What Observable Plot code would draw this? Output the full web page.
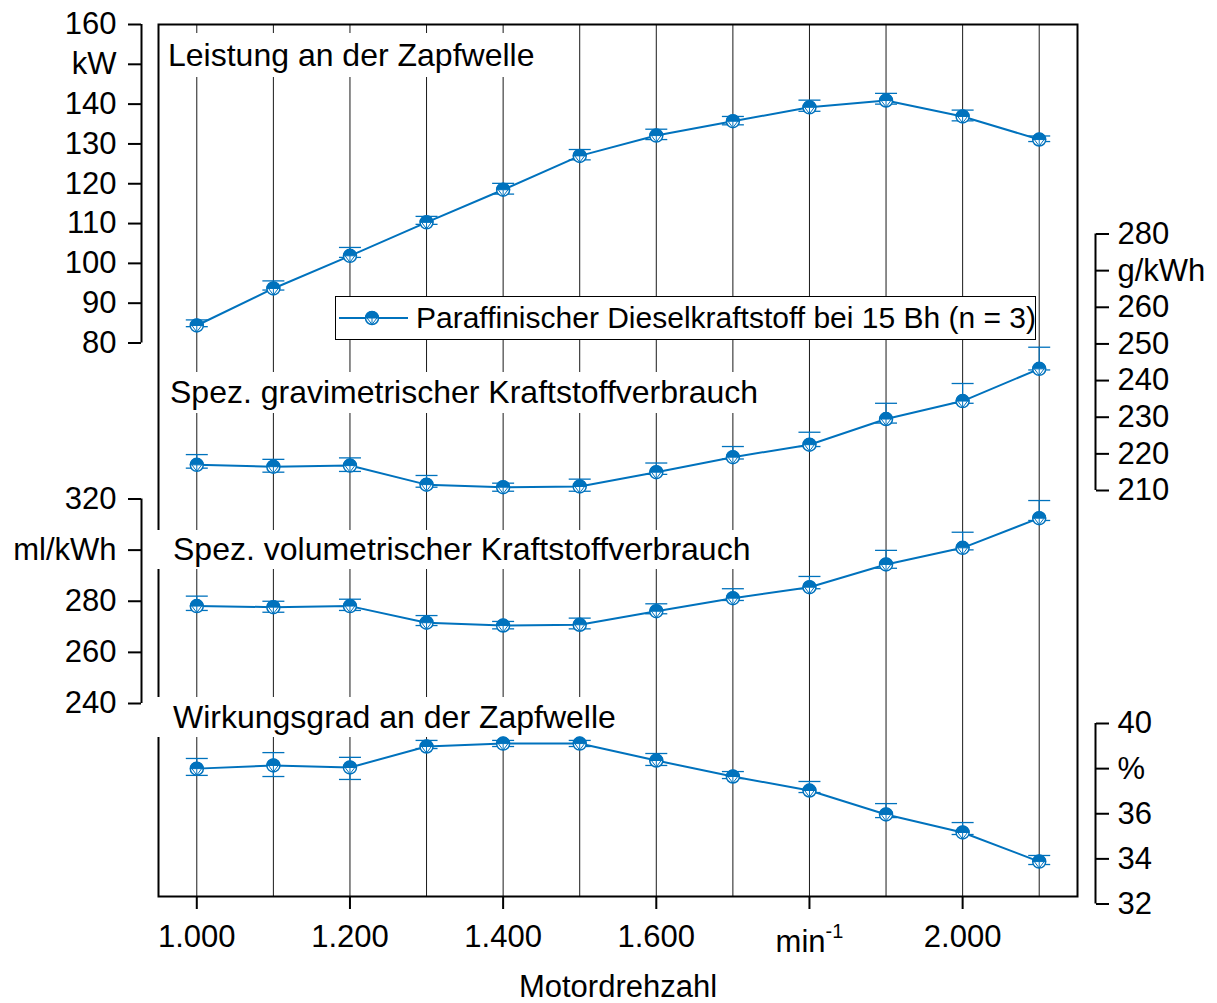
<!DOCTYPE html>
<html><head><meta charset="utf-8">
<script src="https://cdn.jsdelivr.net/npm/d3@7"></script>
<script src="https://cdn.jsdelivr.net/npm/@observablehq/plot@0.6"></script>
<style>
body{margin:0;background:#fff;}
#wrap{position:relative;width:1217px;height:1003px;overflow:hidden;font-family:"Liberation Sans",Arial,sans-serif;color:#000;}
#wrap svg{position:absolute;left:0;top:0;}
.lbl{position:absolute;background:#fff;font-size:32px;white-space:nowrap;color:#000;box-sizing:border-box;}
#legend{position:absolute;left:335px;top:296px;width:701px;height:44px;box-sizing:border-box;border:1px solid #000;background:#fff;font-size:30px;line-height:42px;white-space:nowrap;}
#legend svg{position:absolute;left:0;top:0;}
#legend span{position:absolute;left:80px;top:0;}
</style></head>
<body><div id="wrap"></div>
<script>
// ---------- data ----------
const rpm = [1000, 1100, 1200, 1300, 1400, 1500, 1600, 1700, 1800, 1900, 2000, 2100];

const power   = [84.4, 93.7, 101.9, 110.3, 118.5, 127.0, 132.1, 135.7, 139.2, 140.9, 136.9, 131.1];
const powerLo = [84.1, 93.3, 101.5, 109.8, 117.4, 126.0, 131.1, 134.8, 138.2, 140.0, 135.8, 130.6];
const powerHi = [85.8, 95.6, 104.0, 111.8, 120.1, 128.6, 133.7, 136.9, 141.0, 142.7, 138.5, 132.0];

const grav   = [217.0, 216.5, 216.8, 211.6, 210.9, 211.1, 215.0, 219.1, 222.5, 229.5, 234.4, 243.2];
const gravLo = [216.1, 215.0, 215.2, 210.9, 209.8, 209.8, 214.4, 218.6, 222.0, 228.4, 233.8, 242.9];
const gravHi = [219.8, 218.5, 218.9, 214.1, 212.0, 213.1, 217.5, 222.0, 225.9, 233.8, 239.2, 249.1];

const vol   = [278.1, 277.7, 278.1, 271.6, 270.5, 270.8, 276.1, 281.2, 285.5, 294.4, 300.9, 312.5];
const volLo = [276.4, 275.7, 276.4, 270.5, 269.2, 269.2, 275.1, 280.3, 284.9, 292.9, 300.1, 311.6];
const volHi = [282.0, 280.0, 280.8, 274.4, 272.1, 273.4, 279.0, 284.9, 289.7, 299.9, 307.0, 319.4];

const eff   = [38.00, 38.14, 38.05, 38.98, 39.11, 39.11, 38.36, 37.65, 37.03, 35.97, 35.17, 33.88];
const effLo = [37.70, 37.65, 37.52, 38.89, 38.98, 38.98, 38.14, 37.56, 36.94, 35.83, 35.08, 33.75];
const effHi = [38.45, 38.71, 38.50, 39.25, 39.25, 39.25, 38.67, 37.87, 37.43, 36.45, 35.61, 34.15];

const xTicks = [1000, 1200, 1400, 1600, 1800, 2000];
const xTickLabels = ["1.000", "1.200", "1.400", "1.600", "min-1", "2.000"];
const xLabel = "Motordrehzahl";

const powerTicks = [160, 150, 140, 130, 120, 110, 100, 90, 80];
const gravTicks = [280, 270, 260, 250, 240, 230, 220, 210];
const volTicks = [320, 300, 280, 260, 240];
const effTicks = [40, 38, 36, 34, 32];

const titles = [
  "Leistung an der Zapfwelle",
  "Spez. gravimetrischer Kraftstoffverbrauch",
  "Spez. volumetrischer Kraftstoffverbrauch",
  "Wirkungsgrad an der Zapfwelle"
];
const legendText = "Paraffinischer Dieselkraftstoff bei 15 Bh (n = 3)";

// ---------- drawing ----------
const W = 1217, H = 1003;
const blue = "#0072BD";
const font = "'Liberation Sans', Arial, sans-serif";
const wrap = document.getElementById("wrap");

const common = {
  width: W, height: H, marginLeft: 158, marginRight: 140,
  style: {fontFamily: font, fontSize: "31px", color: "#000", background: "transparent", overflow: "visible"}
};

const xLab = new Map(xTicks.map((t, i) => [t, xTickLabels[i]]));

const base = Plot.plot({
  ...common, marginTop: 24, marginBottom: H - 896,
  x: {domain: [950, 2150]},
  marks: [
    Plot.ruleX(rpm, {stroke: "#1a1a1a", strokeWidth: 1}),
    Plot.frame({stroke: "#000", strokeWidth: 2}),
    Plot.axisX(xTicks, {anchor: "bottom", tickSize: 13, tickPadding: 15, strokeWidth: 2, fontSize: 31, tickFormat: d => xLab.get(d), label: null}),
    Plot.text([xLabel], {frameAnchor: "bottom", lineAnchor: "middle", dy: 91, fontSize: 31})
  ]
});
wrap.appendChild(base);
// superscript for min^-1
base.querySelectorAll("text").forEach(t => {
  if (t.textContent === "min-1") {
    t.textContent = "";
    const ns = "http://www.w3.org/2000/svg";
    const a = document.createElementNS(ns, "tspan"); a.textContent = "min"; a.setAttribute("dy", "5");
    const b = document.createElementNS(ns, "tspan"); b.textContent = "-1"; b.setAttribute("dy", "-14"); b.setAttribute("font-size", "20");
    t.appendChild(a); t.appendChild(b);
  }
});

// title boxes
const boxes = [
  {left: 160, top: 33, h: 44, pl: 8},
  {left: 162, top: 372, h: 41, pl: 8},
  {left: 157, top: 530, h: 39, pl: 16},
  {left: 157, top: 697, h: 40, pl: 16}
];
titles.forEach((txt, i) => {
  const b = boxes[i];
  const d = document.createElement("div");
  d.className = "lbl";
  d.style.left = b.left + "px"; d.style.top = b.top + "px";
  d.style.height = b.h + "px"; d.style.lineHeight = b.h + "px";
  d.style.paddingLeft = b.pl + "px"; d.style.paddingRight = "6px";
  d.textContent = txt;
  wrap.appendChild(d);
});

// symbols
const halfTop = {draw(ctx, size) { const r = Math.sqrt(size / Math.PI); ctx.moveTo(-r, 0); ctx.arc(0, 0, r, Math.PI, 2 * Math.PI); ctx.closePath(); }};
const lowTri = {draw(ctx, size) { const r = Math.sqrt(size / Math.PI); ctx.moveTo(-0.75 * r, 0); ctx.lineTo(0, r); ctx.lineTo(0.75 * r, 0); ctx.moveTo(0, 0); ctx.lineTo(0, r); }};
const cap = {draw(ctx, size) { const r = Math.sqrt(size / Math.PI); ctx.moveTo(-r, 0); ctx.lineTo(r, 0); }};

function panel({vals, lo, hi, domain, top, bottom, ticks, unitTick, unit, anchor}) {
  const data = rpm.map((r, i) => ({rpm: r, v: vals[i], lo: lo[i], hi: hi[i]}));
  const left = anchor === "left";
  const off = left ? -17 : 18;
  return Plot.plot({
    ...common, marginTop: top, marginBottom: H - bottom,
    x: {domain: [950, 2150], axis: null},
    y: {domain, axis: null},
    marks: [
      Plot.ruleX([left ? 950 : 2150], {y1: domain[0], y2: domain[1], dx: off, stroke: "#000", strokeWidth: 2}),
      Plot.axisY(ticks, {anchor, dx: off, tickSize: 13, tickPadding: left ? 12 : 9, strokeWidth: 2, fontSize: 31,
        tickFormat: d => d === unitTick ? unit : String(d), label: null}),
      Plot.ruleX(data, {x: "rpm", y1: "lo", y2: "hi", stroke: blue, strokeWidth: 1.2}),
      Plot.dot(data, {x: "rpm", y: "lo", symbol: cap, r: 11, fill: "none", stroke: blue, strokeWidth: 1.3}),
      Plot.dot(data, {x: "rpm", y: "hi", symbol: cap, r: 11, fill: "none", stroke: blue, strokeWidth: 1.3}),
      Plot.line(data, {x: "rpm", y: "v", stroke: blue, strokeWidth: 2}),
      Plot.dot(data, {x: "rpm", y: "v", r: 6.5, fill: "white", stroke: blue, strokeWidth: 1.5}),
      Plot.dot(data, {x: "rpm", y: "v", r: 6.5, symbol: halfTop, fill: blue, stroke: blue, strokeWidth: 1}),
      Plot.dot(data, {x: "rpm", y: "v", r: 6.5, symbol: lowTri, fill: "none", stroke: blue, strokeWidth: 1})
    ]
  });
}

[
  {vals: power, lo: powerLo, hi: powerHi, domain: [80, 160], top: 24, bottom: 342.5, ticks: powerTicks, unitTick: 150, unit: "kW", anchor: "left"},
  {vals: grav, lo: gravLo, hi: gravHi, domain: [210, 280], top: 233.5, bottom: 490, ticks: gravTicks, unitTick: 270, unit: "g/kWh", anchor: "right"},
  {vals: vol, lo: volLo, hi: volHi, domain: [240, 320], top: 498.5, bottom: 703, ticks: volTicks, unitTick: 300, unit: "ml/kWh", anchor: "left"},
  {vals: eff, lo: effLo, hi: effHi, domain: [32, 40], top: 723, bottom: 903.5, ticks: effTicks, unitTick: 38, unit: "%", anchor: "right"}
].forEach(p => { const s = panel(p); s.style.pointerEvents = "none"; wrap.appendChild(s); });

// legend
const lg = document.createElement("div");
lg.id = "legend";
lg.innerHTML = `<svg width="80" height="42" viewBox="0 0 80 42">
  <line x1="3" x2="72" y1="21" y2="21" stroke="${blue}" stroke-width="2"/>
  <circle cx="36" cy="21" r="6.5" fill="white" stroke="${blue}" stroke-width="1.5"/>
  <path d="M29.5,21A6.5,6.5 0 0 1 42.5,21Z" fill="${blue}" stroke="${blue}"/>
  <path d="M31.1,21L36,27.5L40.9,21M36,21L36,27.5" fill="none" stroke="${blue}"/>
</svg><span></span>`;
lg.querySelector("span").textContent = legendText;
wrap.appendChild(lg);
</script>
</body></html>
